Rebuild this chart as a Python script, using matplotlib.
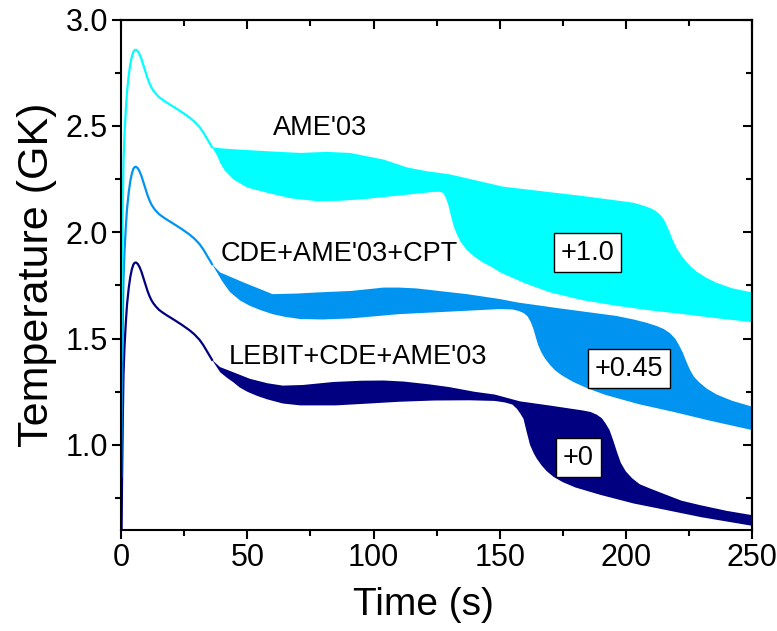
import numpy as np
import matplotlib
matplotlib.use("Agg")
import matplotlib.pyplot as plt
from matplotlib.ticker import MultipleLocator

plt.rcParams["font.family"] = ["Liberation Sans", "DejaVu Sans"]

# common early part of the temperature curve (unshifted), time in s, T in GK
t_base = [0, 0.3, 0.6, 0.9, 1.3, 1.8, 2.3, 3.0, 3.6, 4.2, 4.8, 5.3, 5.8, 6.5,
          7.2, 8.0, 8.8, 9.6, 10.4, 11.2, 12.0, 12.8, 13.8, 15, 16.5, 18, 21,
          24, 27, 29, 31, 32.5, 34, 35, 36]
T_base = [0.40, 0.80, 1.10, 1.33, 1.46, 1.57, 1.66, 1.74, 1.79, 1.825, 1.848,
          1.856, 1.858, 1.852, 1.838, 1.815, 1.785, 1.755, 1.725, 1.70, 1.68,
          1.665, 1.65, 1.635, 1.622, 1.61, 1.588, 1.565, 1.54, 1.52, 1.495,
          1.47, 1.44, 1.42, 1.40]

# LEBIT+CDE+AME'03 band (+0)
t_lebit_up = [36, 39.2, 44.4, 51, 58, 64, 72, 84, 95, 104, 112, 122, 130, 140,
              148, 158, 170, 183, 186, 188.5, 190.5, 192, 193.5, 195, 196.5,
              198, 200, 202.5, 205.5, 209.6, 215, 222, 229.4, 240, 250]
T_lebit_up = [1.40, 1.366, 1.342, 1.311, 1.29, 1.279, 1.282, 1.296, 1.302,
              1.303, 1.298, 1.285, 1.272, 1.25, 1.237, 1.205, 1.185, 1.162,
              1.155, 1.142, 1.125, 1.10, 1.07, 1.02, 0.965, 0.915, 0.875,
              0.843, 0.815, 0.795, 0.77, 0.738, 0.717, 0.69, 0.67]
t_lebit_lo = [36, 39.2, 42, 44.4, 47, 50, 54, 57.7, 64, 71, 85, 97, 110, 124,
              138, 148, 152, 155, 156.8, 158, 159.4, 160.7, 162, 163.5, 164.7,
              166.5, 168.5, 171.3, 175, 180, 190, 203, 216, 230, 250]
T_lebit_lo = [1.40, 1.342, 1.315, 1.295, 1.27, 1.25, 1.23, 1.215, 1.195,
              1.186, 1.186, 1.194, 1.203, 1.209, 1.21, 1.207, 1.20, 1.19, 1.17,
              1.15, 1.123, 1.06, 1.0, 0.96, 0.935, 0.905, 0.878, 0.85, 0.825,
              0.80, 0.765, 0.725, 0.694, 0.66, 0.62]

# CDE+AME'03+CPT band (+0.45)
t_cpt_up = [36, 39.2, 48.5, 60, 70, 77.5, 91, 104, 110, 117, 137, 150, 157,
            175, 196, 203, 208, 212, 215, 217.5, 219.5, 221, 222.5, 224,
            225.5, 227, 229, 232, 236, 242, 250]
T_cpt_up = [1.40, 1.361, 1.314, 1.259, 1.262, 1.267, 1.274, 1.29, 1.29, 1.286,
            1.259, 1.236, 1.22, 1.19, 1.157, 1.14, 1.125, 1.11, 1.095, 1.075,
            1.05, 1.02, 0.985, 0.94, 0.90, 0.87, 0.845, 0.815, 0.787, 0.758,
            0.73]
t_cpt_lo = [36, 38, 40, 43, 47, 51, 55, 60, 65, 71, 80, 91, 110, 137, 150,
            155, 157.5, 159.5, 161, 162.2, 163.2, 164.2, 165.2, 166.5, 168,
            170, 172, 174.5, 179, 185, 192, 205, 219, 233, 250]
T_cpt_lo = [1.40, 1.36, 1.32, 1.27, 1.23, 1.204, 1.185, 1.165, 1.152, 1.142,
            1.14, 1.145, 1.165, 1.181, 1.189, 1.187, 1.18, 1.17, 1.155, 1.13,
            1.10, 1.06, 1.02, 0.985, 0.955, 0.925, 0.90, 0.878, 0.847, 0.815,
            0.785, 0.742, 0.705, 0.665, 0.62]

# AME'03 band (+1.0)
t_ame_up = [36, 39.2, 45, 57.7, 70.9, 81.4, 90.7, 103.9, 113.2, 121.1, 130.3,
            151.5, 183.2, 202.9, 207, 210, 212.2, 214, 215.5, 217, 218.5,
            220.1, 222, 224, 226, 228, 232, 236, 242, 250]
T_ame_up = [1.40, 1.395, 1.39, 1.381, 1.373, 1.378, 1.373, 1.342, 1.305,
            1.287, 1.272, 1.214, 1.170, 1.139, 1.125, 1.112, 1.097, 1.077,
            1.05, 1.01, 0.965, 0.925, 0.89, 0.86, 0.835, 0.815, 0.785, 0.762,
            0.737, 0.717]
t_ame_lo = [36, 38, 39.2, 41, 44.5, 50, 57.7, 67, 77.5, 87, 97.3, 112, 124,
            126.4, 127.5, 128.3, 129, 129.8, 130.5, 131.7, 133, 134.5, 137,
            140, 143, 147, 150.2, 160, 170, 183, 196.4, 210, 222.8, 235, 250]
T_ame_lo = [1.40, 1.36, 1.326, 1.29, 1.248, 1.21, 1.186, 1.16, 1.146, 1.148,
            1.157, 1.175, 1.19, 1.19, 1.185, 1.17, 1.15, 1.12, 1.085, 1.03,
            0.99, 0.955, 0.915, 0.885, 0.86, 0.835, 0.811, 0.76, 0.717, 0.68,
            0.654, 0.632, 0.615, 0.597, 0.577]

labels = ["LEBIT+CDE+AME'03", "CDE+AME'03+CPT", "AME'03"]
offsets = [0.0, 0.45, 1.0]
offset_texts = ["+0", "+0.45", "+1.0"]
colors = ["#000080", "#0094F0", "#00FFFF"]

bands = [
    (t_lebit_up, T_lebit_up, t_lebit_lo, T_lebit_lo),
    (t_cpt_up, T_cpt_up, t_cpt_lo, T_cpt_lo),
    (t_ame_up, T_ame_up, t_ame_lo, T_ame_lo),
]

fig = plt.figure(figsize=(7.77, 6.31), dpi=100)
ax = fig.add_axes([0.156, 0.160, 0.812, 0.809])

for (tu, Tu, tl, Tl), off, col in zip(bands, offsets, colors):
    ax.plot(t_base, np.array(T_base) + off, color=col, lw=1.6, zorder=2,
            solid_joinstyle="round")
    xs = np.concatenate([tu, tl[::-1]])
    ys = np.concatenate([np.array(Tu) + off, np.array(Tl[::-1]) + off])
    ax.fill(xs, ys, color=col, lw=0, zorder=2)

# curve labels
ax.text(78.8, 2.49, labels[2], fontsize=19.5, ha="center", va="center")
ax.text(86.4, 1.896, labels[1], fontsize=19.5, ha="center", va="center")
ax.text(93.7, 1.414, labels[0], fontsize=19.5, ha="center", va="center")

# offset boxes
box = dict(boxstyle="square,pad=0.25", fc="white", ec="black", lw=1.0)
ax.text(181.2, 0.941, offset_texts[0], fontsize=19.5, ha="center",
        va="center", bbox=box, zorder=5)
ax.text(201.3, 1.359, offset_texts[1], fontsize=19.5, ha="center",
        va="center", bbox=box, zorder=5)
ax.text(184.9, 1.904, offset_texts[2], fontsize=19.5, ha="center",
        va="center", bbox=box, zorder=5)

ax.set_xlim(0, 250)
ax.set_ylim(0.6, 3.0)
ax.xaxis.set_major_locator(MultipleLocator(50))
ax.xaxis.set_minor_locator(MultipleLocator(25))
ax.yaxis.set_major_locator(MultipleLocator(0.5))
ax.yaxis.set_minor_locator(MultipleLocator(0.25))
ax.set_yticks([1.0, 1.5, 2.0, 2.5, 3.0])

for s in ax.spines.values():
    s.set_linewidth(1.5)
ax.tick_params(which="both", direction="out", width=1.5, labelsize=22, pad=3)
ax.tick_params(which="major", length=6.5)
ax.tick_params(which="minor", length=4)

ax.set_xlabel("Time (s)", fontsize=28)
ax.xaxis.set_label_coords(0.479, -0.112)
ax.set_ylabel("Temperature (GK)", fontsize=31, labelpad=6)

# mirrored inward ticks on top and right
top = ax.secondary_xaxis("top")
top.xaxis.set_major_locator(MultipleLocator(50))
top.xaxis.set_minor_locator(MultipleLocator(25))
top.tick_params(which="both", direction="in", width=1.5, labeltop=False)
top.tick_params(which="major", length=6.5)
top.tick_params(which="minor", length=4)
top.spines["top"].set_linewidth(1.5)

right = ax.secondary_yaxis("right")
right.yaxis.set_major_locator(MultipleLocator(0.5))
right.yaxis.set_minor_locator(MultipleLocator(0.25))
right.tick_params(which="both", direction="in", width=1.5, labelright=False)
right.tick_params(which="major", length=6.5)
right.tick_params(which="minor", length=4)
right.spines["right"].set_linewidth(1.5)

fig.savefig("out.png", dpi=100)
